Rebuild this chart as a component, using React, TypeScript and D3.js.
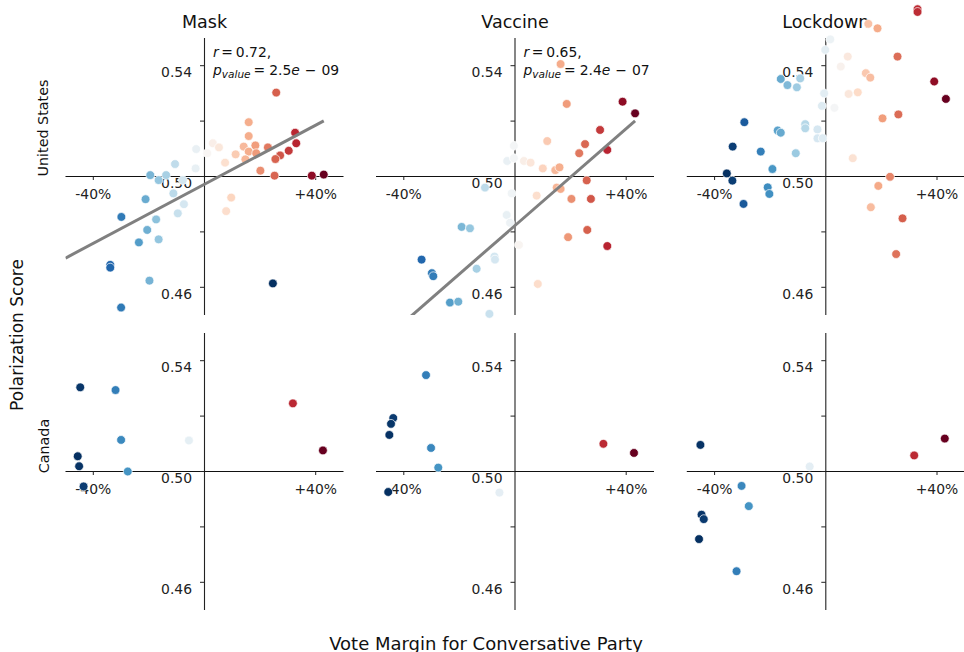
import React from "react";
import * as d3 from "d3";

// ---- data: [vote margin, polarization score, optional hue override] ----
type Pt = [number, number, number?];

const COLUMNS = ["Mask", "Vaccine", "Lockdown"];
const ROWS = ["United States", "Canada"];

const US_MASK: Pt[] = [
  [0.258, 0.5303], [0.159, 0.5196], [0.159, 0.5146], [0.326, 0.5158], [0.33, 0.512],
  [0.03, 0.512], [0.052, 0.5105], [-0.03, 0.5099], [0.01, 0.5084], [0.141, 0.5108],
  [0.183, 0.5112], [0.228, 0.5105], [0.159, 0.509], [0.186, 0.5084], [0.112, 0.508],
  [0.147, 0.5062], [0.074, 0.505], [0.272, 0.5076], [0.255, 0.5063], [0.303, 0.5093],
  [0.201, 0.5021], [0.252, 0.5003], [0.386, 0.5003], [0.429, 0.5007], [-0.106, 0.5045],
  [-0.032, 0.5029], [-0.195, 0.5005], [-0.165, 0.4987], [-0.138, 0.5005], [-0.078, 0.4987],
  [-0.112, 0.4939], [-0.074, 0.49], [-0.096, 0.4867], [0.096, 0.4924], [0.078, 0.4875],
  [-0.212, 0.4918], [-0.174, 0.4845], [-0.299, 0.4854], [-0.206, 0.4807], [-0.165, 0.4773],
  [-0.236, 0.4762], [-0.339, 0.4681], [-0.339, 0.4671], [-0.198, 0.4624], [-0.3, 0.4527],
  [0.246, 0.4614, -0.424],
];

const US_VACCINE: Pt[] = [
  [0.164, 0.5406], [0.186, 0.5262], [0.387, 0.527], [0.432, 0.5228], [0.306, 0.5168],
  [0.332, 0.5096], [0.252, 0.5117], [0.231, 0.5084], [0.116, 0.5128], [-0.004, 0.5111],
  [-0.028, 0.5056], [-0.004, 0.5066], [0.032, 0.5056], [0.056, 0.505], [0.1, 0.5029],
  [0.145, 0.5023], [0.16, 0.5033], [0.258, 0.4986], [0.15, 0.496], [0.164, 0.4955],
  [-0.108, 0.496], [-0.012, 0.4939], [0.078, 0.4931], [0.203, 0.4919], [0.273, 0.4919],
  [-0.03, 0.4861], [-0.018, 0.4833], [-0.192, 0.4818], [-0.162, 0.4813], [0.26, 0.4807],
  [0.191, 0.4781], [0.014, 0.4753], [0.332, 0.4749], [-0.336, 0.47], [-0.074, 0.4711],
  [-0.072, 0.47], [-0.299, 0.4651], [-0.294, 0.464], [-0.138, 0.4667], [0.082, 0.4612],
  [-0.234, 0.4545], [-0.204, 0.4548], [-0.092, 0.4504],
];

const US_LOCKDOWN: Pt[] = [
  [0.33, 0.5604], [0.33, 0.5594], [0.153, 0.5551], [0.186, 0.5535], [0.258, 0.5433],
  [0.016, 0.5495], [-0.002, 0.5457], [0.079, 0.5433], [0.054, 0.5397], [0.144, 0.5373],
  [0.16, 0.5357], [0.39, 0.5343], [0.432, 0.528], [-0.162, 0.5352], [-0.092, 0.5354],
  [-0.138, 0.533], [-0.104, 0.5322], [-0.006, 0.53], [0.082, 0.5298], [0.115, 0.5304],
  [-0.014, 0.5255], [0.031, 0.5248], [0.261, 0.5224], [0.204, 0.521], [-0.293, 0.5196],
  [-0.074, 0.5189], [-0.074, 0.5174], [-0.173, 0.5166], [-0.162, 0.5158], [-0.03, 0.517],
  [-0.03, 0.5138], [-0.011, 0.5138], [-0.335, 0.5108], [-0.234, 0.509], [-0.108, 0.5084],
  [0.097, 0.5066], [-0.192, 0.5027], [-0.356, 0.5011], [-0.336, 0.4985], [0.231, 0.4999],
  [-0.209, 0.4961], [-0.203, 0.4937], [0.189, 0.4966], [-0.296, 0.4901], [0.162, 0.4889],
  [0.276, 0.4849], [0.253, 0.472],
];

const CA_MASK: Pt[] = [
  [-0.447, 0.5304], [-0.32, 0.5294], [0.318, 0.5246], [-0.3, 0.5114], [-0.056, 0.5112],
  [0.426, 0.5076], [-0.456, 0.5055], [-0.451, 0.5019], [-0.276, 0.5], [-0.435, 0.4946],
];

const CA_VACCINE: Pt[] = [
  [-0.32, 0.5348], [-0.438, 0.5193], [-0.446, 0.5172], [-0.452, 0.5132], [-0.302, 0.5085],
  [-0.276, 0.5014], [0.318, 0.51], [0.428, 0.5067], [-0.456, 0.4926], [-0.056, 0.4924],
];

const CA_LOCKDOWN: Pt[] = [
  [-0.451, 0.5096], [-0.058, 0.5018], [0.428, 0.5119], [0.318, 0.5058], [-0.303, 0.4948],
  [-0.277, 0.4875], [-0.447, 0.4844], [-0.439, 0.4828], [-0.456, 0.4756], [-0.321, 0.464],
];

// regression results shown in the US panels
const US_FITS = [
  { r: "0.72", mant: "2.5", exp: "09", slope: 0.0533, intercept: 0.4972 },
  { r: "0.65", mant: "2.4", exp: "07", slope: 0.0875, intercept: 0.4823 },
  null,
];

// hue normalisation ranges (vote margin used for colour)
const US_HUE_RANGES: ([number, number] | null)[] = [[-0.424, 0.429], [-0.424, 0.432], null];

const Y_TICKS = [0.46, 0.48, 0.5, 0.52, 0.54];
const Y_TICK_LABELS = [0.46, 0.5, 0.54];
const X_TICKS = [-0.4, 0.4];
const X_DOMAIN: [number, number] = [-0.5, 0.5];
const Y_DOMAIN: [number, number] = [0.45, 0.55];

// ---- layout ----
const W = 964;
const H = 652;
const COL_LEFT = [65.5, 376, 686.8];
const COL_W = 278;
const ROW_TOP = [38, 333];
const ROW_H = 277;
const FONT = "DejaVu Sans, sans-serif";

const PALETTE = [...d3.schemeRdBu[11]].reverse();
const cmap = d3
  .scaleLinear<string>()
  .domain(d3.range(11).map((i) => i / 10))
  .range(PALETTE)
  .interpolate(d3.interpolateRgb)
  .clamp(true);

const DATA = [
  [US_MASK, US_VACCINE, US_LOCKDOWN],
  [CA_MASK, CA_VACCINE, CA_LOCKDOWN],
];

function fmtX(v: number) {
  return (v > 0 ? "+" : "-") + Math.round(Math.abs(v) * 100) + "%";
}

function Panel({ row, col }: { row: number; col: number }) {
  const data = DATA[row][col];
  const left = COL_LEFT[col];
  const top = ROW_TOP[row];
  const x = d3.scaleLinear().domain(X_DOMAIN).range([left, left + COL_W]);
  const y = d3.scaleLinear().domain(Y_DOMAIN).range([top + ROW_H, top]);
  const x0 = x(0);
  const y0 = y(0.5);
  const hues = data.map((d) => (d[2] !== undefined ? (d[2] as number) : d[0]));
  const range = (row === 0 ? US_HUE_RANGES[col] : null) || (d3.extent(hues) as [number, number]);
  const hueT = (h: number) => (h - range[0]) / (range[1] - range[0]);
  const fit = row === 0 ? US_FITS[col] : null;
  const clipId = `clip-${row}-${col}`;
  const line = d3
    .line<number>()
    .x((v) => x(v))
    .y((v) => y(fit ? fit.intercept + fit.slope * v : 0));
  const xMax = d3.max(data, (d) => d[0]) as number;
  const fs = 13.9;
  return (
    <g>
      <defs>
        <clipPath id={clipId}>
          <rect x={left} y={top} width={COL_W} height={ROW_H} />
        </clipPath>
      </defs>
      {/* spines */}
      <line x1={x0} x2={x0} y1={y(Y_DOMAIN[0])} y2={y(Y_DOMAIN[1])} stroke="#222" strokeWidth={1.1} />
      <line x1={x(X_DOMAIN[0])} x2={x(X_DOMAIN[1])} y1={y0} y2={y0} stroke="#111" strokeWidth={1.1} />
      {/* y ticks */}
      {Y_TICKS.map((t) => (
        <line key={"yt" + t} x1={x0 - 4.5} x2={x0} y1={y(t)} y2={y(t)} stroke="#222" strokeWidth={1} />
      ))}
      {Y_TICK_LABELS.map((t) => (
        <text
          key={"yl" + t}
          x={x0 - 12.5}
          y={y(t) + 6.5}
          textAnchor="end"
          dominantBaseline="central"
          fontSize={fs}
          fontFamily={FONT}
          fill="#222"
        >
          {t.toFixed(2)}
        </text>
      ))}
      {/* x ticks */}
      {X_TICKS.map((t) => (
        <g key={"xt" + t}>
          <line x1={x(t)} x2={x(t)} y1={y0} y2={y0 + 3.5} stroke="#222" strokeWidth={1} />
          <text
            x={x(t)}
            y={y0 + 17.5}
            textAnchor="middle"
            dominantBaseline="central"
            fontSize={fs}
            fontFamily={FONT}
            fill="#222"
          >
            {fmtX(t)}
          </text>
        </g>
      ))}
      {/* annotation */}
      {fit && (
        <g fontFamily={FONT} fontSize={fs} fill="#111">
          <text x={x0 + 8.5} y={top + 18.5}>
            <tspan fontStyle="italic">r</tspan>
            <tspan dx={2.5}>=</tspan>
            <tspan dx={3}>{fit.r},</tspan>
          </text>
          <text x={x0 + 8.5} y={top + 37}>
            <tspan fontStyle="italic">p</tspan>
            <tspan fontStyle="italic" fontSize={10.5} dy={3}>
              value
            </tspan>
            <tspan dy={-3} dx={3}>=</tspan>
            <tspan dx={4}>{fit.mant}</tspan>
            <tspan fontStyle="italic">e</tspan>
            <tspan dx={5}>−</tspan>
            <tspan dx={5}>{fit.exp}</tspan>
          </text>
        </g>
      )}
      {/* points */}
      {data.map((d, i) => (
        <circle
          key={i}
          cx={x(d[0])}
          cy={y(d[1])}
          r={4.4}
          fill={cmap(hueT(hues[i]))}
          stroke="#fff"
          strokeWidth={0.7}
        />
      ))}
      {/* regression line */}
      {fit && (
        <path
          d={line([X_DOMAIN[0], xMax]) || ""}
          stroke="#808080"
          strokeWidth={3}
          fill="none"
          clipPath={`url(#${clipId})`}
        />
      )}
    </g>
  );
}

export default function App() {
  return (
    <svg
      width={W}
      height={H}
      style={{ position: "absolute", left: 0, top: 0, background: "#fff" }}
      fontFamily={FONT}
    >
      <rect width={W} height={H} fill="#fff" />
      {COLUMNS.map((c, i) => (
        <text
          key={c}
          x={COL_LEFT[i] + COL_W / 2}
          y={22}
          textAnchor="middle"
          dominantBaseline="central"
          fontSize={17.5}
          fill="#111"
        >
          {c}
        </text>
      ))}
      {[0, 1].map((r) => [0, 1, 2].map((c) => <Panel key={`${r}-${c}`} row={r} col={c} />))}
      <text
        transform={`translate(43,128) rotate(-90)`}
        textAnchor="middle"
        dominantBaseline="central"
        fontSize={14.3}
        fill="#111"
      >
        {ROWS[0]}
      </text>
      <text
        transform={`translate(43.5,446) rotate(-90)`}
        textAnchor="middle"
        dominantBaseline="central"
        fontSize={14.3}
        fill="#111"
      >
        {ROWS[1]}
      </text>
      <text
        transform={`translate(17,335) rotate(-90)`}
        textAnchor="middle"
        dominantBaseline="central"
        fontSize={17}
        fill="#111"
      >
        Polarization Score
      </text>
      <text x={486} y={643} textAnchor="middle" dominantBaseline="central" fontSize={18} fill="#111">
        Vote Margin for Conversative Party
      </text>
    </svg>
  );
}
